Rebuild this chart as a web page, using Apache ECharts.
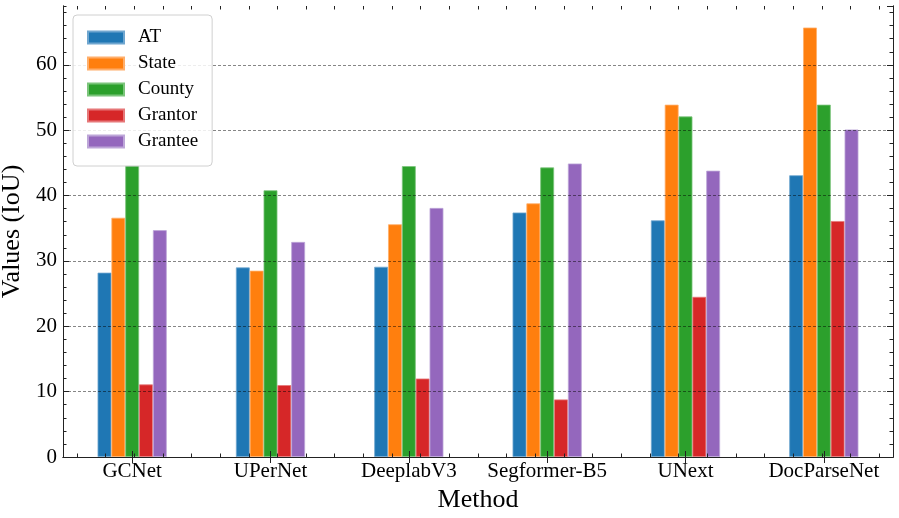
<!DOCTYPE html>
<html>
<head>
<meta charset="utf-8">
<script src="https://cdn.jsdelivr.net/npm/echarts@6/dist/echarts.min.js"></script>
<style>html,body{margin:0;padding:0;background:#fff}#c{width:899px;height:518px}</style>
</head>
<body>
<div id="c"></div>
<script>
var categories = ['GCNet', 'UPerNet', 'DeeplabV3', 'Segformer-B5', 'UNext', 'DocParseNet'];
var seriesNames = ['AT', 'State', 'County', 'Grantor', 'Grantee'];
var AT      = [28.2, 29.0, 29.1, 37.4, 36.2, 43.1];
var State   = [36.6, 28.5, 35.6, 38.8, 53.9, 65.7];
var County  = [44.6, 40.8, 44.5, 44.3, 52.1, 53.9];
var Grantor = [11.1, 11.0, 12.0, 8.8, 24.5, 36.1];
var Grantee = [34.7, 32.9, 38.1, 44.9, 43.8, 50.1];
var yMin = 0, yMax = 69, yMajor = 10, yMinor = 2;

var colors = ['#1f77b4', '#ff7f0e', '#2ca02c', '#d62728', '#9467bd'];
var edgeColors = ['#6fa6cf', '#ffae6a', '#7bc47b', '#e67778', '#bda6d8'];
var values = [AT, State, County, Grantor, Grantee];
var FONT = 'Liberation Serif';

// layout of the plot area
var G = {left: 63, right: 6, top: 6, bottom: 61};
var W = 899 - G.left - G.right;
var band = W / categories.length;
var minorStep = band / 5;            // x minor ticks every 0.2 category units
var minorCount = categories.length * 5 - 2; // ticks at -0.4 ... 5.4

var lineStyle = {color: '#222', width: 1};
function xCat(pos, labels) {
  return {
    type: 'category', data: categories, position: pos, boundaryGap: true, gridIndex: 0, z: 3,
    axisLine: {show: true, lineStyle: lineStyle},
    axisTick: {show: true, inside: true, length: 6, alignWithLabel: true, interval: 0, lineStyle: lineStyle},
    axisLabel: labels ? {show: true, fontFamily: FONT, fontSize: 21, color: '#000', margin: 4, interval: 0}
                      : {show: false},
    splitLine: {show: false}
  };
}
function xMinor(pos) {
  return {
    type: 'value', min: 0, max: minorCount, interval: 1, position: pos, gridIndex: 1, z: 3,
    axisLine: {show: false},
    axisTick: {show: true, inside: true, length: 3.5, lineStyle: lineStyle},
    axisLabel: {show: false},
    splitLine: {show: false}
  };
}
function yAx(pos, interval, len, labels, split) {
  return {
    type: 'value', min: yMin, max: yMax, interval: interval, position: pos, gridIndex: 0, z: 3,
    axisLine: {show: true, lineStyle: lineStyle},
    axisTick: {show: true, inside: true, length: len, lineStyle: lineStyle},
    axisLabel: labels ? {show: true, fontFamily: FONT, fontSize: 21, color: '#000', margin: 6, showMaxLabel: false,
      formatter: function (v) { return (v % yMajor === 0) ? String(v) : ''; }} : {show: false},
    splitLine: split ? {show: true, showMinLine: false, showMaxLine: false,
      lineStyle: {color: 'rgba(0,0,0,0.6)', width: 0.8, type: [3, 2]}} : {show: false}
  };
}

var xAxes = [xCat('bottom', true), xCat('top', false), xMinor('bottom'), xMinor('top')];
xAxes[0].name = 'Method';
xAxes[0].nameLocation = 'middle';
xAxes[0].nameGap = 27;
xAxes[0].nameTextStyle = {fontFamily: FONT, fontSize: 26, color: '#000'};

var yAxes = [
  yAx('left', yMajor, 6, true, true),
  yAx('right', yMajor, 6, false, false),
  yAx('left', yMinor, 3.5, false, false),
  yAx('right', yMinor, 3.5, false, false),
  {type: 'value', gridIndex: 1, min: 0, max: 1, show: false}
];
yAxes[0].name = 'Values (IoU)';
yAxes[0].nameLocation = 'middle';
yAxes[0].nameGap = 31;
yAxes[0].nameTextStyle = {fontFamily: FONT, fontSize: 26, color: '#000'};

var series = seriesNames.map(function (n, k) {
  return {
    name: n, type: 'bar', data: values[k], xAxisIndex: 0, yAxisIndex: 0,
    barWidth: '10%', barGap: '0%', z: 2,
    itemStyle: {color: colors[k], borderColor: edgeColors[k], borderWidth: 0.8},
    emphasis: {disabled: true}
  };
});

var chart = echarts.init(document.getElementById('c'), null, {renderer: 'canvas'});
chart.setOption({
  animation: false,
  backgroundColor: '#fff',
  grid: [
    {left: G.left, right: G.right, top: G.top, bottom: G.bottom, containLabel: false, outerBoundsMode: 'none'},
    {left: G.left + minorStep / 2, right: G.right + minorStep / 2, top: G.top, bottom: G.bottom,
     containLabel: false, outerBoundsMode: 'none'}
  ],
  legend: {
    orient: 'vertical', left: 73, top: 15, z: 10,
    data: seriesNames, icon: 'rect', itemWidth: 36, itemHeight: 12, itemGap: 7,
    padding: [13, 14, 15, 14],
    backgroundColor: 'rgba(255,255,255,0.85)', borderColor: '#d0d0d0', borderWidth: 1, borderRadius: 4,
    textStyle: {fontFamily: FONT, fontSize: 19, color: '#000', lineHeight: 19, padding: [0, 0, 0, 9]},
    selectedMode: false
  },
  xAxis: xAxes,
  yAxis: yAxes,
  series: series
});
</script>
</body>
</html>
